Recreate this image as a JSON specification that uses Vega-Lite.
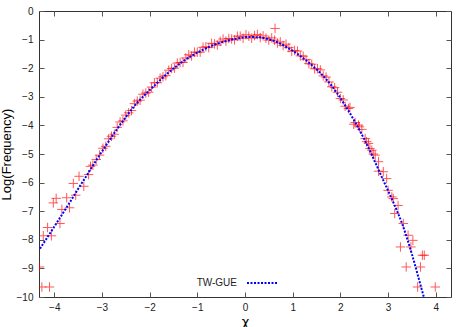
{
  "$schema": "https://vega.github.io/schema/vega-lite/v6.json",
  "width": 412,
  "height": 286,
  "autosize": {"type": "none"},
  "padding": {"left": 39, "top": 11, "right": 16, "bottom": 30},
  "background": "white",
  "config": {
    "view": {"stroke": "#333333", "strokeWidth": 1},
    "font": "Liberation Sans",
    "axis": {"grid": false, "domain": false, "tickColor": "#555555", "tickSize": -5, "labelFontSize": 10, "labelColor": "#222222", "titleFontSize": 13, "titleFontWeight": "normal", "titleColor": "#000000"}
  },
  "datasets": {
    "obs": [
      {"x": -4.31, "y": -8.95}, {"x": -4.26, "y": -9.65}, {"x": -4.10, "y": -9.65}, {"x": -4.23, "y": -7.86}, {"x": -4.06, "y": -7.86},
      {"x": -4.14, "y": -7.57}, {"x": -3.88, "y": -7.43}, {"x": -4.02, "y": -6.71}, {"x": -3.96, "y": -6.55}, {"x": -3.84, "y": -6.94},
      {"x": -3.68, "y": -6.88}, {"x": -3.74, "y": -6.53}, {"x": -3.60, "y": -6.03}, {"x": -3.55, "y": -6.44}, {"x": -3.48, "y": -5.78},
      {"x": -3.38, "y": -6.13}, {"x": -3.28, "y": -5.72}, {"x": -3.24, "y": -5.43}, {"x": -3.19, "y": -5.39}, {"x": -3.12, "y": -5.19},
      {"x": -3.05, "y": -5.04},
      {"x": -2.98, "y": -4.80}, {"x": -2.92, "y": -4.73}, {"x": -2.86, "y": -4.47}, {"x": -2.80, "y": -4.38}, {"x": -2.74, "y": -4.31},
      {"x": -2.68, "y": -4.07}, {"x": -2.62, "y": -3.88}, {"x": -2.56, "y": -3.84}, {"x": -2.50, "y": -3.64}, {"x": -2.44, "y": -3.56},
      {"x": -2.38, "y": -3.48}, {"x": -2.32, "y": -3.24}, {"x": -2.26, "y": -3.15}, {"x": -2.20, "y": -3.12}, {"x": -2.14, "y": -2.91},
      {"x": -2.08, "y": -2.87}, {"x": -2.02, "y": -2.84}, {"x": -1.96, "y": -2.66}, {"x": -1.90, "y": -2.51}, {"x": -1.84, "y": -2.51},
      {"x": -1.78, "y": -2.35}, {"x": -1.72, "y": -2.30}, {"x": -1.66, "y": -2.26}, {"x": -1.60, "y": -2.07}, {"x": -1.54, "y": -2.01},
      {"x": -1.48, "y": -2.00}, {"x": -1.42, "y": -1.82}, {"x": -1.36, "y": -1.80}, {"x": -1.30, "y": -1.80}, {"x": -1.24, "y": -1.64},
      {"x": -1.18, "y": -1.53}, {"x": -1.12, "y": -1.57}, {"x": -1.06, "y": -1.44}, {"x": -1.00, "y": -1.44}, {"x": -0.94, "y": -1.44},
      {"x": -0.88, "y": -1.27}, {"x": -0.82, "y": -1.25}, {"x": -0.76, "y": -1.28}, {"x": -0.70, "y": -1.13}, {"x": -0.64, "y": -1.15},
      {"x": -0.58, "y": -1.19}, {"x": -0.52, "y": -1.06}, {"x": -0.46, "y": -0.98}, {"x": -0.40, "y": -1.05}, {"x": -0.34, "y": -0.96},
      {"x": -0.28, "y": -0.98}, {"x": -0.22, "y": -1.01}, {"x": -0.16, "y": -0.88}, {"x": -0.10, "y": -0.88}, {"x": -0.04, "y": -0.95},
      {"x": 0.02, "y": -0.83}, {"x": 0.08, "y": -0.88}, {"x": 0.14, "y": -0.95}, {"x": 0.20, "y": -0.86}, {"x": 0.26, "y": -0.82},
      {"x": 0.32, "y": -0.93}, {"x": 0.38, "y": -0.87}, {"x": 0.44, "y": -0.95}, {"x": 0.50, "y": -1.02}, {"x": 0.56, "y": -0.94},
      {"x": 0.62, "y": -1.02}, {"x": 0.63, "y": -0.61}, {"x": 0.68, "y": -1.12}, {"x": 0.74, "y": -1.08}, {"x": 0.80, "y": -1.21},
      {"x": 0.86, "y": -1.16}, {"x": 0.92, "y": -1.28}, {"x": 0.98, "y": -1.41}, {"x": 1.04, "y": -1.38}, {"x": 1.10, "y": -1.40},
      {"x": 1.16, "y": -1.57}, {"x": 1.22, "y": -1.58}, {"x": 1.28, "y": -1.70}, {"x": 1.34, "y": -1.84}, {"x": 1.40, "y": -1.86},
      {"x": 1.46, "y": -2.02}, {"x": 1.52, "y": -2.02}, {"x": 1.58, "y": -2.06}, {"x": 1.64, "y": -2.27}, {"x": 1.70, "y": -2.31},
      {"x": 1.76, "y": -2.48}, {"x": 1.82, "y": -2.65}, {"x": 1.88, "y": -2.68}, {"x": 1.94, "y": -2.84}, {"x": 2.00, "y": -3.06},
      {"x": 2.06, "y": -3.11},
      {"x": 2.10, "y": -3.33}, {"x": 2.17, "y": -3.41}, {"x": 2.20, "y": -3.37}, {"x": 2.28, "y": -3.96}, {"x": 2.31, "y": -3.90},
      {"x": 2.38, "y": -3.99}, {"x": 2.40, "y": -4.05}, {"x": 2.45, "y": -4.14}, {"x": 2.52, "y": -4.46}, {"x": 2.55, "y": -4.57},
      {"x": 2.59, "y": -4.63}, {"x": 2.62, "y": -4.81}, {"x": 2.66, "y": -4.87}, {"x": 2.69, "y": -5.00}, {"x": 2.73, "y": -5.04},
      {"x": 2.80, "y": -5.27}, {"x": 2.80, "y": -5.60}, {"x": 2.90, "y": -5.62}, {"x": 2.97, "y": -5.86}, {"x": 3.00, "y": -6.27},
      {"x": 3.08, "y": -6.50}, {"x": 3.11, "y": -6.56}, {"x": 3.14, "y": -7.08}, {"x": 3.21, "y": -6.80}, {"x": 3.32, "y": -7.43},
      {"x": 3.42, "y": -7.84}, {"x": 3.52, "y": -8.02}, {"x": 3.26, "y": -8.25}, {"x": 3.48, "y": -8.25}, {"x": 3.72, "y": -8.54},
      {"x": 3.76, "y": -8.54}, {"x": 3.38, "y": -8.95}, {"x": 3.68, "y": -8.95}, {"x": 3.62, "y": -9.65}, {"x": 3.99, "y": -9.65}
    ],
    "tw": [
      {"x": -4.3, "y": -8.31}, {"x": -4.1, "y": -7.80}, {"x": -3.9, "y": -7.28}, {"x": -3.7, "y": -6.76}, {"x": -3.5, "y": -6.22},
      {"x": -3.3, "y": -5.70}, {"x": -3.1, "y": -5.17}, {"x": -2.9, "y": -4.66}, {"x": -2.7, "y": -4.17}, {"x": -2.5, "y": -3.71},
      {"x": -2.3, "y": -3.28}, {"x": -2.1, "y": -2.93}, {"x": -1.9, "y": -2.61}, {"x": -1.7, "y": -2.29}, {"x": -1.5, "y": -2.01},
      {"x": -1.3, "y": -1.76}, {"x": -1.1, "y": -1.55}, {"x": -0.9, "y": -1.37}, {"x": -0.7, "y": -1.22}, {"x": -0.5, "y": -1.10},
      {"x": -0.3, "y": -1.01}, {"x": -0.1, "y": -0.94}, {"x": 0.1, "y": -0.91}, {"x": 0.3, "y": -0.92}, {"x": 0.5, "y": -0.99},
      {"x": 0.7, "y": -1.11}, {"x": 0.9, "y": -1.29}, {"x": 1.1, "y": -1.50}, {"x": 1.3, "y": -1.75}, {"x": 1.5, "y": -2.04},
      {"x": 1.7, "y": -2.38}, {"x": 1.9, "y": -2.80}, {"x": 2.1, "y": -3.30}, {"x": 2.3, "y": -3.86}, {"x": 2.5, "y": -4.48},
      {"x": 2.7, "y": -5.18}, {"x": 2.9, "y": -5.92}, {"x": 3.1, "y": -6.65}, {"x": 3.3, "y": -7.46}, {"x": 3.5, "y": -8.50},
      {"x": 3.7, "y": -9.70}, {"x": 3.75, "y": -10.0}
    ]
  },
  "layer": [
    {
      "data": {"name": "obs"},
      "mark": {"type": "point", "shape": "M-1,0L1,0M0,-1L0,1", "filled": false, "stroke": "#ff0000", "strokeWidth": 1, "size": 90, "opacity": 0.65, "clip": true},
      "encoding": {
        "x": {"field": "x", "type": "quantitative", "scale": {"domain": [-4.32, 4.32], "nice": false, "zero": false},
              "axis": {"values": [-4, -3, -2, -1, 0, 1, 2, 3, 4], "title": "χ", "labelPadding": 10, "titlePadding": 3, "titleFont": "DejaVu Sans"}},
        "y": {"field": "y", "type": "quantitative", "scale": {"domain": [-10, 0], "nice": false, "zero": false},
              "axis": {"values": [-10, -9, -8, -7, -6, -5, -4, -3, -2, -1, 0], "title": "Log(Frequency)", "labelPadding": 11, "titlePadding": 3}}
      }
    },
    {
      "data": {"name": "tw"},
      "mark": {"type": "line", "strokeWidth": 2, "strokeDash": [2, 1.5], "clip": true, "interpolate": "monotone"},
      "encoding": {
        "x": {"field": "x", "type": "quantitative", "axis": {"orient": "top", "values": [-4, -3, -2, -1, 0, 1, 2, 3, 4], "labels": false, "title": null}},
        "y": {"field": "y", "type": "quantitative", "axis": {"orient": "right", "values": [-10, -9, -8, -7, -6, -5, -4, -3, -2, -1, 0], "labels": false, "title": null}},
        "color": {"datum": "TW-GUE", "type": "nominal", "scale": {"range": ["#0000ff"]},
                  "legend": {"orient": "none", "legendX": 207, "legendY": 256, "title": null, "symbolType": "stroke", "symbolSize": 900, "symbolStrokeWidth": 2, "symbolDash": [2, 1.5], "labelAlign": "right", "labelOffset": -41, "labelFontSize": 10, "labelColor": "#222222"}}
      }
    }
  ],
  "resolve": {"axis": {"x": "independent", "y": "independent"}}
}
